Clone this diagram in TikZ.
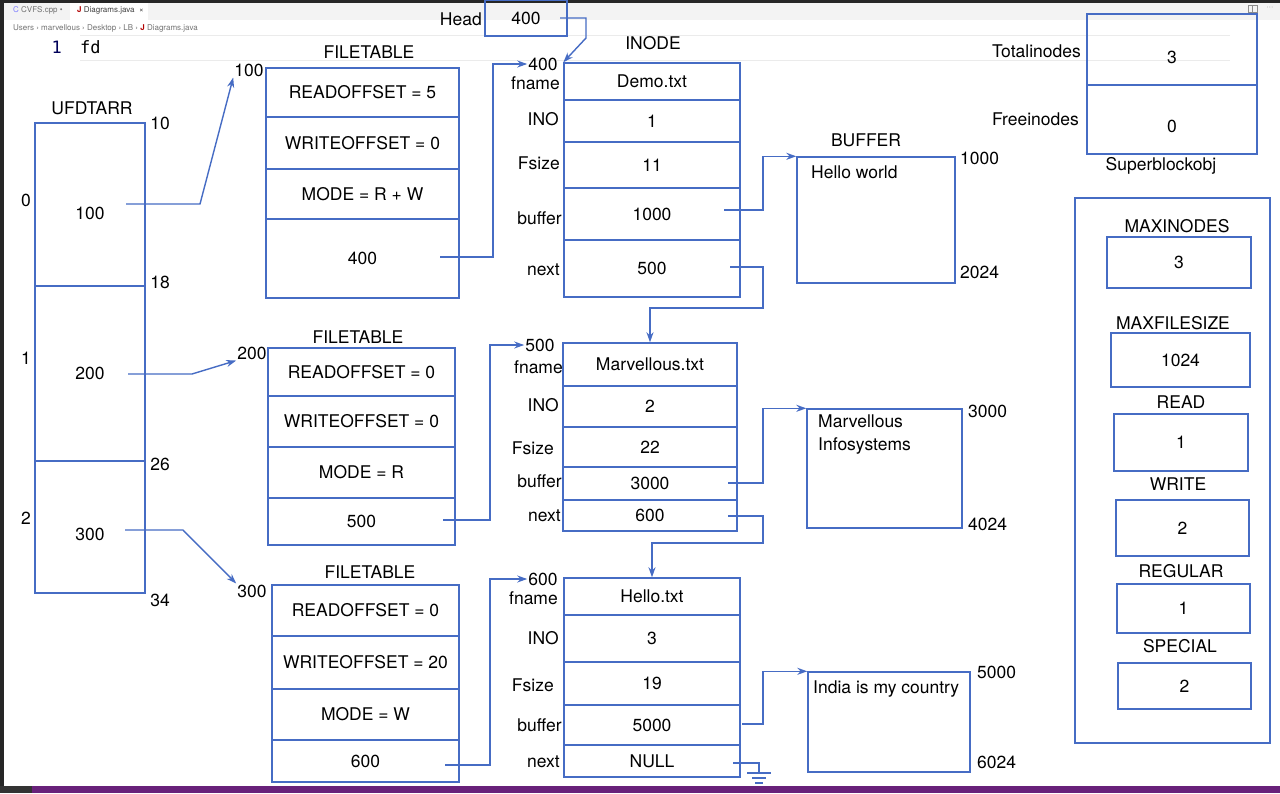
\documentclass[tikz,border=0pt]{standalone}
\usepackage{fontspec}
\setmainfont{TeX Gyre Heros}
\newfontfamily\codefont{DejaVu Sans Mono}
\usetikzlibrary{arrows.meta}
\definecolor{lineblue}{RGB}{70,108,196}
\definecolor{chrome}{RGB}{243,243,243}
\definecolor{statusbar}{RGB}{104,33,122}

\begin{document}
\begin{tikzpicture}[x=1pt,y=-1pt,font=\fontsize{17.5}{21}\selectfont]
    \tikzstyle{cell}=[rectangle,draw=lineblue,line width=1.4pt,inner sep=0pt]
    \tikzstyle{low}=[text height=29pt,text depth=0pt]
    \tikzstyle{txt}=[inner sep=1pt]
    \tikzstyle{wire}=[draw=lineblue,line width=1.4pt]
    \tikzstyle{link}=[wire,-{Stealth[length=10pt,width=7pt]}]
    \tikzstyle{small}=[inner sep=1pt,font=\fontsize{8}{9}\selectfont,text=black!55]
    \useasboundingbox (0,0) rectangle (1280,793);
    % editor window round the drawing
    \fill[white] (0,0) rectangle (1280,793);
    \fill[chrome] (0,0) rectangle (1280,20);
    \fill[white] (70,3) rectangle (148,20);
    \fill[black!85] (0,0) rectangle (1280,3);
    \fill[black!85] (0,0) rectangle (4,793);
    \fill[statusbar] (0,786) rectangle (1280,793);
    \fill[black!80] (0,786) rectangle (32,793);
    \draw[black!8,line width=1pt] (80,35) -- (1230,35) (80,60) -- (1230,60);
    \node[small,anchor=west] (tabcvfs) at (12,10) {{\color{blue!50}C} CVFS.cpp \textbullet};
    \node[small,anchor=west,text=black!75] (tabdiag) at (76,10) {{\color{red!70!black}\bfseries J} Diagrams.java \ ×};
    \node[small,anchor=west] (crumbs) at (12,28) {Users › marvellous › Desktop › LB › {\color{red!70!black}\bfseries J} Diagrams.java};
    \draw[black!45,line width=0.6pt] (1248,5) rectangle (1257,12) (1252.5,5) -- (1252.5,12);
    \node[small] (dots) at (1270,8) {···};
    \node[anchor=east,inner sep=1pt,text=blue!35!black,font=\codefont\fontsize{17}{20}\selectfont] (lineno) at (63,47) {1};
    \node[anchor=west,inner sep=1pt,font=\codefont\fontsize{17}{20}\selectfont] (code) at (79,47) {fd};

    % UFDTARR
    \node[txt] (ufdtitle) at (92,108) {UFDTARR};
    \node[cell,low,minimum width=110pt,minimum height=163pt] (ufd0) at (90,204.5) {100};
    \node[cell,minimum width=110pt,minimum height=175pt] (ufd1) at (90,373.5) {200};
    \node[cell,low,text height=26pt,minimum width=110pt,minimum height=132pt] (ufd2) at (90,527) {300};
    \node[txt] (idx0) at (26,200) {0};
    \node[txt] (idx1) at (26,358) {1};
    \node[txt] (idx2) at (26,518) {2};
    \node[txt] (off10) at (160,123) {10};
    \node[txt] (off18) at (160,282) {18};
    \node[txt] (off26) at (160,464) {26};
    \node[txt] (off34) at (160,600) {34};
    \coordinate (ufd0ptr) at (126,204);
    \coordinate (ufd1ptr) at (128,374);
    \coordinate (ufd2ptr) at (125,530);

    % file tables
    \node[txt] (ft1title) at (369,52) {FILETABLE};
    \node[txt] (ft1addr) at (249,70) {100};
    \node[cell,minimum width=193pt,minimum height=49pt] (ft1read) at (362.5,92.5) {READOFFSET = 5};
    \node[cell,minimum width=193pt,minimum height=52pt] (ft1write) at (362.5,143) {WRITEOFFSET = 0};
    \node[cell,minimum width=193pt,minimum height=50pt] (ft1mode) at (362.5,194) {MODE = R + W};
    \node[cell,minimum width=193pt,minimum height=79pt] (ft1inode) at (362.5,258.5) {400};
    \coordinate (ft1ptr) at (440,257);

    \node[txt] (ft2title) at (358,337) {FILETABLE};
    \node[txt] (ft2addr) at (252,353) {200};
    \node[cell,minimum width=187pt,minimum height=48pt] (ft2read) at (361.5,372) {READOFFSET = 0};
    \node[cell,minimum width=187pt,minimum height=51pt] (ft2write) at (361.5,421.5) {WRITEOFFSET = 0};
    \node[cell,minimum width=187pt,minimum height=51pt] (ft2mode) at (361.5,472.5) {MODE = R};
    \node[cell,minimum width=187pt,minimum height=47pt] (ft2inode) at (361.5,521.5) {500};
    \coordinate (ft2ptr) at (443,520);

    \node[txt] (ft3title) at (370,572) {FILETABLE};
    \node[txt] (ft3addr) at (252,591) {300};
    \node[cell,minimum width=187pt,minimum height=51pt] (ft3read) at (365.5,610.5) {READOFFSET = 0};
    \node[cell,minimum width=187pt,minimum height=53pt] (ft3write) at (365.5,662.5) {WRITEOFFSET = 20};
    \node[cell,minimum width=187pt,minimum height=51pt] (ft3mode) at (365.5,714.5) {MODE = W};
    \node[cell,minimum width=187pt,minimum height=42pt] (ft3inode) at (365.5,761) {600};
    \coordinate (ft3ptr) at (445,765);

    % inodes
    \node[txt,anchor=east] (headlbl) at (483,19) {Head};
    \node[cell,minimum width=82pt,minimum height=36pt] (head) at (526,18) {400};
    \coordinate (headptr) at (560,18);
    \node[txt] (inodetitle) at (653,43) {INODE};

    \node[txt] (ino1addr) at (543,64) {400};
    \node[cell,minimum width=176pt,minimum height=37pt] (ino1name) at (652,81.5) {Demo.txt};
    \node[cell,minimum width=176pt,minimum height=42pt] (ino1no) at (652,121) {1};
    \node[cell,minimum width=176pt,minimum height=46pt] (ino1size) at (652,165) {11};
    \node[cell,minimum width=176pt,minimum height=52pt] (ino1buf) at (652,214) {1000};
    \node[cell,minimum width=176pt,minimum height=57pt] (ino1next) at (652,268.5) {500};
    \node[txt,anchor=east] (ino1l1) at (561,83) {fname};
    \node[txt,anchor=east] (ino1l2) at (560,119) {INO};
    \node[txt,anchor=east] (ino1l3) at (561,163) {Fsize};
    \node[txt,anchor=east] (ino1l4) at (563,218) {buffer};
    \node[txt,anchor=east] (ino1l5) at (561,270) {next};
    \coordinate (ino1bptr) at (724,210);
    \coordinate (ino1nptr) at (730,267);

    \node[txt] (ino2addr) at (540,345) {500};
    \node[cell,minimum width=174pt,minimum height=43pt] (ino2name) at (650,364.5) {Marvellous.txt};
    \node[cell,minimum width=174pt,minimum height=41pt] (ino2no) at (650,406.5) {2};
    \node[cell,minimum width=174pt,minimum height=40pt] (ino2size) at (650,447) {22};
    \node[cell,minimum width=174pt,minimum height=33pt] (ino2buf) at (650,483.5) {3000};
    \node[cell,minimum width=174pt,minimum height=31pt] (ino2next) at (650,515.5) {600};
    \node[txt,anchor=east] (ino2l1) at (564,367) {fname};
    \node[txt,anchor=east] (ino2l2) at (560,405) {INO};
    \node[txt,anchor=east] (ino2l3) at (555,448) {Fsize};
    \node[txt,anchor=east] (ino2l4) at (563,481) {buffer};
    \node[txt,anchor=east] (ino2l5) at (562,516) {next};
    \coordinate (ino2bptr) at (728,483);
    \coordinate (ino2nptr) at (728,516);

    \node[txt] (ino3addr) at (543,579) {600};
    \node[cell,minimum width=176pt,minimum height=37pt] (ino3name) at (652,596.5) {Hello.txt};
    \node[cell,minimum width=176pt,minimum height=47pt] (ino3no) at (652,638.5) {3};
    \node[cell,minimum width=176pt,minimum height=43pt] (ino3size) at (652,683.5) {19};
    \node[cell,minimum width=176pt,minimum height=40pt] (ino3buf) at (652,725) {5000};
    \node[cell,minimum width=176pt,minimum height=32pt] (ino3next) at (652,761) {NULL};
    \node[txt,anchor=east] (ino3l1) at (559,598) {fname};
    \node[txt,anchor=east] (ino3l2) at (560,638) {INO};
    \node[txt,anchor=east] (ino3l3) at (555,685) {Fsize};
    \node[txt,anchor=east] (ino3l4) at (563,725) {buffer};
    \node[txt,anchor=east] (ino3l5) at (561,762) {next};
    \coordinate (ino3bptr) at (742,724);
    \coordinate (ino3nptr) at (733,763);
    \coordinate (gnd) at (759,773);

    % buffers
    \node[txt] (buftitle) at (866,140) {BUFFER};
    \node[cell,minimum width=158pt,minimum height=126pt] (buf1) at (876,220) {};
    \node[txt,anchor=north west] (buf1data) at (810,165) {Hello world};
    \node[txt,anchor=west] (buf1start) at (959,158) {1000};
    \node[txt,anchor=west] (buf1end) at (959,272) {2024};

    \node[cell,minimum width=155pt,minimum height=119pt] (buf2) at (884.5,468.5) {};
    \node[txt,anchor=north west,align=left,font=\fontsize{17.5}{23}\selectfont] (buf2data) at (817,414) {Marvellous\\Infosystems};
    \node[txt,anchor=west] (buf2start) at (967,411) {3000};
    \node[txt,anchor=west] (buf2end) at (967,524) {4024};

    \node[cell,minimum width=162pt,minimum height=100pt] (buf3) at (889,722) {};
    \node[txt,anchor=north west] (buf3data) at (812,680) {India is my country};
    \node[txt,anchor=west] (buf3start) at (976,672) {5000};
    \node[txt,anchor=west] (buf3end) at (976,762) {6024};

    % superblock
    \node[cell,low,text height=28pt,minimum width=170pt,minimum height=71pt] (sbtotal) at (1172,49.5) {3};
    \node[cell,low,text height=26pt,minimum width=170pt,minimum height=69pt] (sbfree) at (1172,119.5) {0};
    \node[txt,anchor=east] (sbtotallbl) at (1082,51) {Totalinodes};
    \node[txt,anchor=east] (sbfreelbl) at (1080,119) {Freeinodes};
    \node[txt] (sbname) at (1161,166) {Superblockobj};

    % constants
    \node[cell,minimum width=195pt,minimum height=545pt] (consts) at (1172.5,470.5) {};
    \node[cell,minimum width=144pt,minimum height=51pt] (maxinodes) at (1179,262.5) {3};
    \node[txt] (maxinodeslbl) at (1177,226) {MAXINODES};
    \node[cell,minimum width=139pt,minimum height=54pt] (maxfilesize) at (1180.5,360) {1024};
    \node[txt] (maxfilesizelbl) at (1173,323) {MAXFILESIZE};
    \node[cell,minimum width=134pt,minimum height=57pt] (readc) at (1181,442.5) {1};
    \node[txt] (readlbl) at (1181,402) {READ};
    \node[cell,minimum width=133pt,minimum height=56pt] (writec) at (1182.5,528) {2};
    \node[txt] (writelbl) at (1178,484) {WRITE};
    \node[cell,minimum width=133pt,minimum height=49pt] (regularc) at (1183.5,608.5) {1};
    \node[txt] (regularlbl) at (1181,571) {REGULAR};
    \node[cell,minimum width=133pt,minimum height=46pt] (specialc) at (1184.5,686) {2};
    \node[txt] (speciallbl) at (1180,646) {SPECIAL};

    % pointers
    \draw[link] (ufd0ptr) -- (200,204) -- (ft1addr.south west);
    \draw[link] (ufd1ptr) -- (192,374) -- (ft2addr.south west);
    \draw[link] (ufd2ptr) -- (183,530) -- (ft3addr.north west);
    \draw[link] (ft1ptr) -- (493,257) |- (ino1addr.west);
    \draw[link] (ft2ptr) -- (490,520) |- (ino2addr.west);
    \draw[link] (ft3ptr) -- (490,765) |- (ino3addr.west);
    \draw[link] (headptr) -- (586,18) -- (586,38) -- (ino1name.north west);
    \draw[link] (ino1bptr) -- (763,210) |- (buf1.north west);
    \draw[link] (ino2bptr) -- (763,483) |- (buf2.north west);
    \draw[link] (ino3bptr) -- (763,724) |- (buf3.north west);
    \draw[link] (ino1nptr) -- (763,267) -- (763,308) -| (ino2name.north);
    \draw[link] (ino2nptr) -- (763,516) -- (763,543) -| (ino3name.north);
    \draw[wire] (ino3nptr) -| (gnd);
    \draw[wire] ([xshift=-12pt]gnd) -- ([xshift=12pt]gnd)
      ([xshift=-7pt,yshift=-5pt]gnd) -- ([xshift=7pt,yshift=-5pt]gnd)
      ([xshift=-4pt,yshift=-10pt]gnd) -- ([xshift=4pt,yshift=-10pt]gnd);
\end{tikzpicture}
\end{document}
